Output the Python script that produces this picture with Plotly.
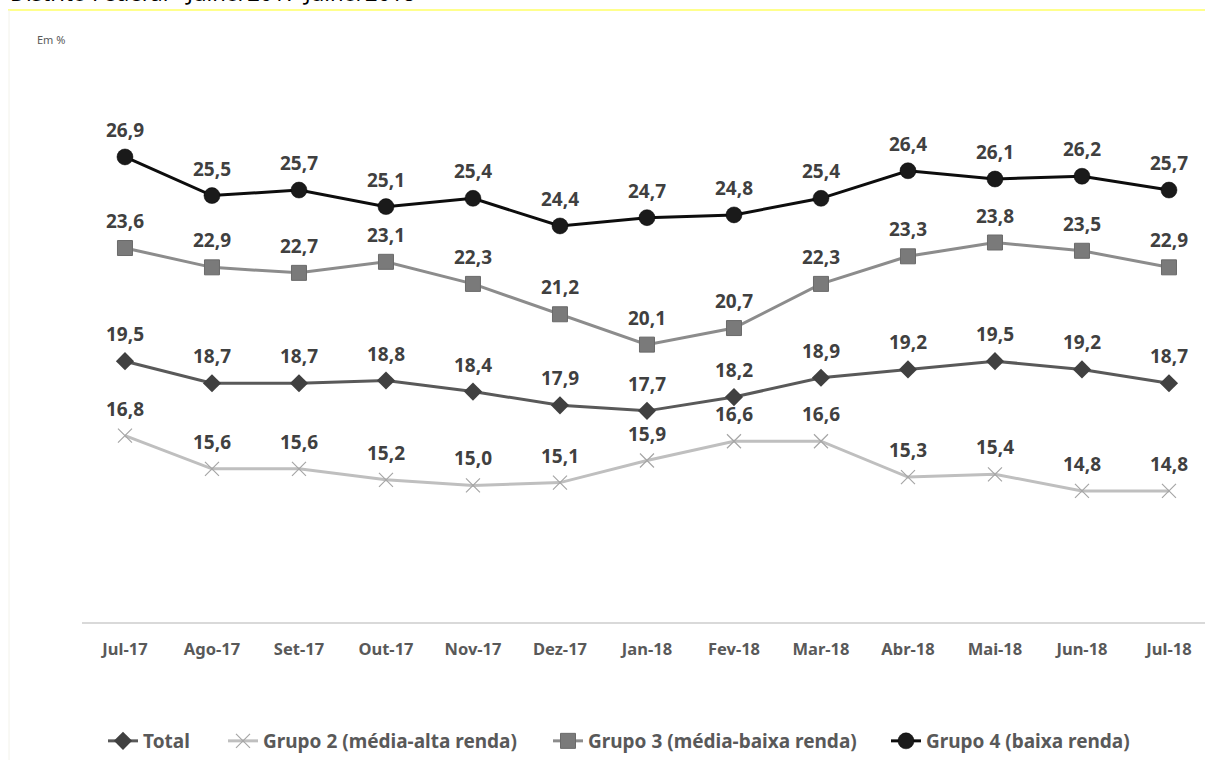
import plotly.graph_objects as go

months = ["Jul-17", "Ago-17", "Set-17", "Out-17", "Nov-17", "Dez-17", "Jan-18",
          "Fev-18", "Mar-18", "Abr-18", "Mai-18", "Jun-18", "Jul-18"]
total = [19.5, 18.7, 18.7, 18.8, 18.4, 17.9, 17.7, 18.2, 18.9, 19.2, 19.5, 19.2, 18.7]
grupo2 = [16.8, 15.6, 15.6, 15.2, 15.0, 15.1, 15.9, 16.6, 16.6, 15.3, 15.4, 14.8, 14.8]
grupo3 = [23.6, 22.9, 22.7, 23.1, 22.3, 21.2, 20.1, 20.7, 22.3, 23.3, 23.8, 23.5, 22.9]
grupo4 = [26.9, 25.5, 25.7, 25.1, 25.4, 24.4, 24.7, 24.8, 25.4, 26.4, 26.1, 26.2, 25.7]

W, H = 1205, 760
L, T, B = 82, 70, 622          # plot area pixel edges (left, top, bottom)
PW, PH = W - L, B - T


def px(p):
    return (p - L) / PW


def py(p):
    return (B - p) / PH


series = [
    ("Total", total, "#595959", dict(symbol="diamond", size=14, color="#404040",
                                     line=dict(width=0)), "legend", 105),
    ("Grupo 2 (média-alta renda)", grupo2, "#bfbfbf",
     dict(symbol="x-thin-open", size=14, color="#a6a6a6",
          line=dict(width=1.2, color="#a6a6a6")), "legend2", 225),
    ("Grupo 3 (média-baixa renda)", grupo3, "#8c8c8c",
     dict(symbol="square", size=15, color="#7a7a7a",
          line=dict(width=1, color="#6a6a6a")), "legend3", 550),
    ("Grupo 4 (baixa renda)", grupo4, "#0d0d0d",
     dict(symbol="circle", size=16, color="#1a1a1a",
          line=dict(width=0.5, color="#000000")), "legend4", 888),
]

x_idx = list(range(len(months)))
fig = go.Figure()
for name, vals, lc, mk, lg, _ in series:
    fig.add_trace(go.Scatter(
        x=x_idx, y=vals, name=name, mode="lines+markers", legend=lg,
        line=dict(color=lc, width=3), marker=mk, cliponaxis=False,
    ))

annotations = []
for name, vals, lc, mk, lg, _ in series:
    for i, v in zip(x_idx, vals):
        annotations.append(dict(
            x=i, y=v, xref="x", yref="y", text=f"{v:.1f}".replace(".", ","),
            showarrow=False, yshift=27, yanchor="middle",
            font=dict(family="Noto Sans", size=19, color="#404040", weight="bold"),
        ))

annotations.append(dict(
    x=px(35), y=py(40), xref="paper", yref="paper",
    text="Em %", showarrow=False, xanchor="left", yanchor="middle",
    font=dict(family="Noto Sans", size=11, color="#595959"),
))
annotations.append(dict(
    x=px(8), y=py(9), xref="paper", yref="paper",
    text="Distrito Federal - Julho/2017-Julho/2018", showarrow=False,
    xanchor="left", yanchor="bottom",
    font=dict(family="Noto Sans", size=22, color="#000000"),
))

shapes = [
    dict(type="line", xref="paper", yref="paper",
         x0=px(8), x1=1.0, y0=py(10), y1=py(10),
         line=dict(color="#ffff66", width=1.5)),
    dict(type="line", xref="paper", yref="paper",
         x0=px(9), x1=px(9), y0=py(10), y1=py(H),
         line=dict(color="#f2f2ea", width=1)),
]

legend_font = dict(family="Noto Sans", size=19, color="#595959", weight="bold")
legend_layout = {}
for name, vals, lc, mk, lg, lx in series:
    legend_layout[lg] = dict(orientation="h", x=px(lx - 2), y=py(741),
                             xanchor="left", yanchor="middle", font=legend_font,
                             itemwidth=30, bgcolor="rgba(0,0,0,0)")

fig.update_layout(
    width=W, height=H,
    margin=dict(l=L, r=0, t=T, b=H - B),
    paper_bgcolor="white", plot_bgcolor="white",
    showlegend=True,
    xaxis=dict(range=[-0.494, 12.414], tickmode="array", tickvals=x_idx, ticktext=months,
               showgrid=False, zeroline=False, showline=True, linecolor="#d9d9d9",
               linewidth=1.5, ticks="", ticklabelstandoff=11,
               tickfont=dict(family="Noto Sans", size=16.5, color="#595959", weight="bold")),
    yaxis=dict(range=[10.05, 30.05], showgrid=False, zeroline=False, showticklabels=False,
               showline=False),
    annotations=annotations, shapes=shapes,
    **legend_layout,
)

fig.write_html("out.html", config={"displayModeBar": False},
               post_script="document.body.style.margin='0';"
                           "document.documentElement.style.overflow='hidden';")
